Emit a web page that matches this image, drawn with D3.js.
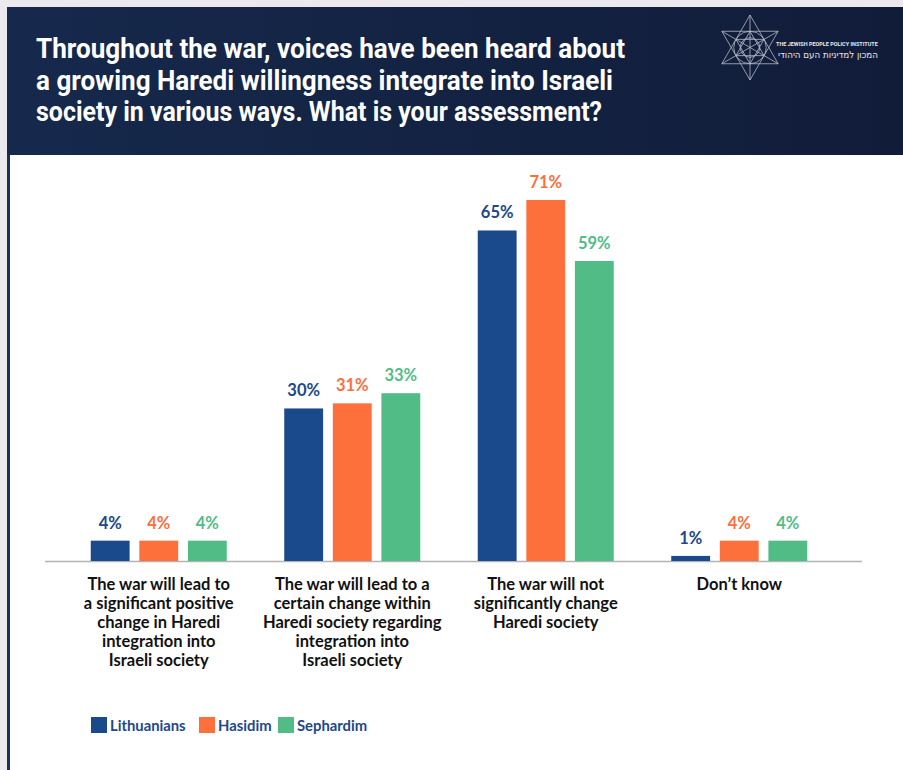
<!DOCTYPE html>
<html>
<head>
<meta charset="utf-8">
<script src="https://cdn.jsdelivr.net/npm/d3@7/dist/d3.min.js"></script>
<style>
  html, body { margin: 0; padding: 0; background: #ebe9ee; }
  svg { display: block; }
</style>
</head>
<body>
<svg id="chart" width="903" height="770"></svg>
<script>
// Survey answers (one group per answer)
const categories = [
  "The war will lead to\na significant positive\nchange in Haredi\nintegration into\nIsraeli society",
  "The war will lead to a\ncertain change within\nHaredi society regarding\nintegration into\nIsraeli society",
  "The war will not\nsignificantly change\nHaredi society",
  "Don\u2019t know"
];
const seriesNames = ["Lithuanians", "Hasidim", "Sephardim"];
const lithuanians = [4, 30, 65, 1];
const hasidim = [4, 31, 71, 4];
const sephardim = [4, 33, 59, 4];
const seriesColors = ["#1b4a8c", "#fd703c", "#52bc87"];
const labelColors = ["#21478a", "#fa6f3e", "#52bc87"];
const titleLines = [
  "Throughout the war, voices have been heard about",
  "a growing Haredi willingness integrate into Israeli",
  "society in various ways. What is your assessment?"
];
const titleWidths = [589, 577, 566];

const values = [lithuanians, hasidim, sephardim];
const svg = d3.select("#chart");

// ---- frame: header band, left rule, white card ----
const defs = svg.append("defs");
const grad = defs.append("linearGradient").attr("id", "hdr").attr("x1", "0").attr("x2", "1");
grad.append("stop").attr("offset", "0").attr("stop-color", "#16294c");
grad.append("stop").attr("offset", "1").attr("stop-color", "#111c39");

svg.append("rect").attr("x", 0).attr("y", 0).attr("width", 903).attr("height", 770).attr("fill", "#ebe9ee");
svg.append("rect").attr("x", 7).attr("y", 7).attr("width", 896).attr("height", 763).attr("fill", "url(#hdr)");
svg.append("rect").attr("x", 7).attr("y", 155).attr("width", 3).attr("height", 615).attr("fill", "#1a2f5a");
svg.append("rect").attr("x", 10).attr("y", 155).attr("width", 893).attr("height", 615).attr("fill", "#ffffff");

// ---- title (condensed bold, each line set to its measure) ----
const titleFont = "'Roboto', 'Open Sans', sans-serif";
svg.append("g").selectAll("text").data(titleLines).join("text")
  .attr("x", 36)
  .attr("y", (d, i) => 58 + i * 31.5)
  .attr("fill", "#ffffff")
  .attr("font-family", titleFont)
  .attr("font-weight", "bold")
  .attr("font-size", 28)
  .attr("textLength", (d, i) => titleWidths[i])
  .attr("lengthAdjust", "spacingAndGlyphs")
  .text(d => d);

// ---- logo: hexagram with inner rings, institute name ----
const logo = svg.append("g").attr("transform", "translate(750,47.5)")
  .attr("fill", "none").attr("stroke", "#c9ccd6").attr("stroke-width", 0.8).attr("opacity", 0.9);
const R = 32.5;
const tri = (r, a) => d3.range(3).map(k => {
  const t = a + k * 2 * Math.PI / 3;
  return [r * Math.sin(t), -r * Math.cos(t)];
});
logo.append("polygon").attr("points", tri(R, 0).join(" "));
logo.append("polygon").attr("points", tri(R, Math.PI).join(" "));
logo.append("polygon").attr("points", tri(R / 2, 0).join(" "));
logo.append("polygon").attr("points", tri(R / 2, Math.PI).join(" "));
logo.append("circle").attr("r", R * 0.5);
logo.append("circle").attr("r", R * 0.3);
logo.append("line").attr("x1", 0).attr("y1", -R).attr("x2", 0).attr("y2", R);
logo.append("line").attr("x1", -R * 0.866).attr("y1", -R / 2).attr("x2", R * 0.866).attr("y2", R / 2);
logo.append("line").attr("x1", -R * 0.866).attr("y1", R / 2).attr("x2", R * 0.866).attr("y2", -R / 2);

// institute name, sized so that it fills its slot
const nameEn = svg.append("text").attr("x", 776).attr("y", 46)
  .attr("fill", "#e6e8ee").attr("font-family", titleFont).attr("font-size", 10)
  .attr("font-weight", "bold")
  .text("THE JEWISH PEOPLE POLICY INSTITUTE");
nameEn.attr("font-size", 10 * 102 / nameEn.node().getComputedTextLength());

const nameHe = svg.append("text").attr("x", 878).attr("y", 58)
  .attr("direction", "rtl").attr("text-anchor", "start")
  .attr("fill", "#e6e8ee").attr("font-family", "'DejaVu Sans Condensed', 'DejaVu Sans', sans-serif")
  .attr("font-size", 10)
  .text("המכון למדיניות העם היהודי");
nameHe.attr("font-size", 10 * 100 / nameHe.node().getComputedTextLength());

// ---- scales ----
const x0 = d3.scaleBand().domain(categories).range([62, 836]).padding(0);
const x1 = d3.scaleBand().domain(seriesNames).range([-68, 68]).paddingInner(0.2);
const y = d3.scaleLinear().domain([0, 100]).range([561, 52.5]);

const plot = svg.append("g");

// baseline
plot.append("line").attr("x1", 45).attr("x2", 862).attr("y1", 561.5).attr("y2", 561.5)
  .attr("stroke", "#b3b3b3").attr("stroke-width", 1.5);

const bodyFont = "Lato, 'Open Sans', sans-serif";

const cells = [];
categories.forEach((c, ci) => {
  seriesNames.forEach((s, si) => {
    cells.push({ cat: c, series: s, si, value: values[si][ci] });
  });
});

const groups = plot.selectAll("g.bar").data(cells).join("g").attr("class", "bar")
  .attr("transform", d => `translate(${x0(d.cat) + x0.bandwidth() / 2},0)`);

groups.append("rect")
  .attr("x", d => x1(d.series))
  .attr("width", x1.bandwidth())
  .attr("y", d => y(d.value))
  .attr("height", d => y(0) - y(d.value))
  .attr("fill", d => seriesColors[d.si]);

groups.append("text")
  .attr("x", d => x1(d.series) + x1.bandwidth() / 2)
  .attr("y", d => y(d.value) - 12)
  .attr("text-anchor", "middle")
  .attr("font-family", bodyFont)
  .attr("font-weight", "bold")
  .attr("font-size", 16.5)
  .attr("fill", d => labelColors[d.si])
  .text(d => d.value + "%");

// ---- category axis ----
const axis = d3.axisBottom(x0).tickSize(0).tickPadding(0);
const ax = plot.append("g").attr("transform", "translate(0,561)").call(axis);
ax.select(".domain").remove();
ax.selectAll(".tick text").each(function (d) {
  const t = d3.select(this);
  t.text(null)
    .attr("y", 0)
    .attr("dy", null)
    .attr("font-family", bodyFont)
    .attr("font-weight", "bold")
    .attr("font-size", 16.5)
    .attr("fill", "#111111");
  d.split("\n").forEach((line, i) => {
    t.append("tspan").attr("x", 0).attr("y", 29 + i * 19).text(line);
  });
});

// ---- legend ----
const legendX = [91, 199, 278];
const legend = svg.append("g").selectAll("g").data(seriesNames).join("g")
  .attr("transform", (d, i) => `translate(${legendX[i]},717)`);
legend.append("rect").attr("width", 16).attr("height", 16).attr("fill", (d, i) => seriesColors[i]);
legend.append("text").attr("x", 19).attr("y", 13.5)
  .attr("font-family", bodyFont).attr("font-weight", "bold").attr("font-size", 14.8)
  .attr("fill", "#21478a").text(d => d);
</script>
</body>
</html>
